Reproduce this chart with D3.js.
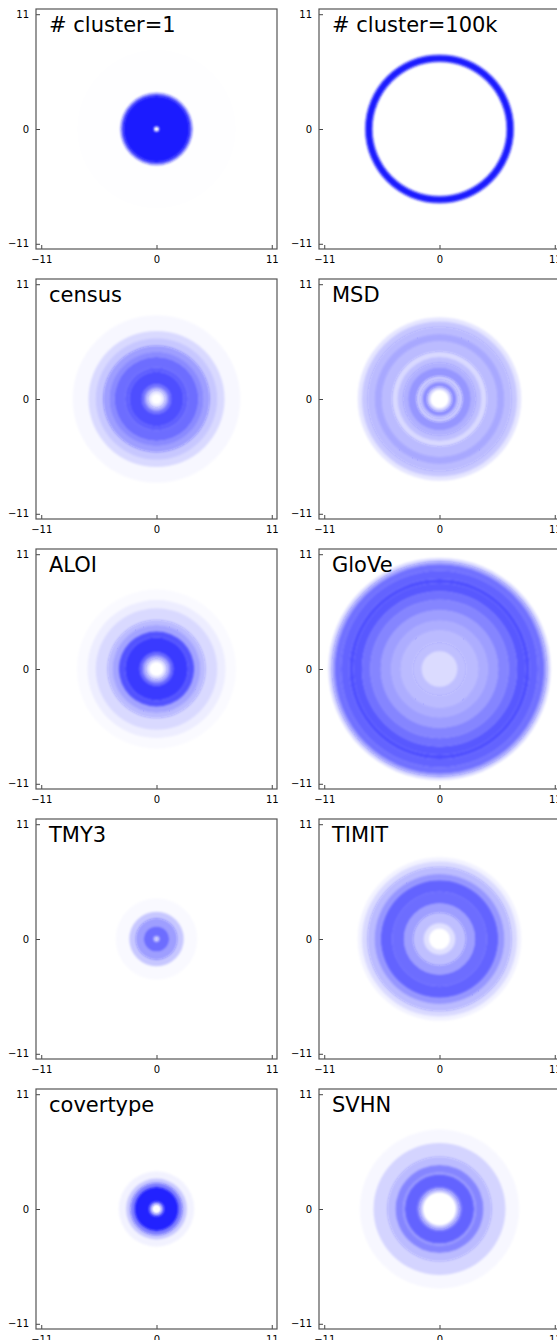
<!DOCTYPE html>
<html>
<head>
<meta charset="utf-8">
<script src="https://cdn.jsdelivr.net/npm/d3@7"></script>
<style>
  body { margin: 0; background: #fff; }
  svg text { font-family: 'DejaVu Sans', sans-serif; fill: #000; }
</style>
</head>
<body>
<div id="chart"></div>
<script>
// Panel titles, in reading order (row by row)
const titles = ['# cluster=1', '# cluster=100k', 'census', 'MSD', 'ALOI',
  'GloVe', 'TMY3', 'TIMIT', 'covertype', 'SVHN'];

// Tick values on both axes
const tickValues = [-11, 0, 11];

// Ring bands per panel: [inner radius, outer radius, density (opacity)]
const cluster1 = [[0.25, 3.15, 0.98], [3.15, 3.3, 0.8], [3.3, 3.45, 0.5], [3.45, 7.6, 0.004]];
const cluster100k = [[6.38, 6.45, 0.6], [6.45, 7.05, 0.98], [7.05, 7.12, 0.6]];
const census = [[0.5, 0.8, 0.1], [0.8, 1.1, 0.35], [1.1, 1.4, 0.6], [1.4, 2.6, 0.74],
  [2.6, 3.0, 0.68], [3.0, 4.0, 0.62], [4.0, 4.5, 0.5], [4.5, 5.1, 0.42], [5.1, 5.8, 0.22],
  [5.8, 6.5, 0.15], [6.5, 8.0, 0.03]];
const msd = [[0.9, 1.2, 0.2], [1.2, 1.6, 0.5], [1.6, 1.9, 0.3], [1.9, 2.2, 0.2],
  [2.2, 3.0, 0.45], [3.0, 3.5, 0.35], [3.5, 4.0, 0.25], [4.0, 4.5, 0.15], [4.5, 5.5, 0.3],
  [5.5, 6.2, 0.38], [6.2, 6.9, 0.3], [6.9, 7.4, 0.22], [7.4, 7.8, 0.1]];
const aloi = [[0.7, 1.0, 0.15], [1.0, 1.3, 0.4], [1.3, 1.6, 0.65], [1.6, 3.0, 0.82],
  [3.0, 3.6, 0.72], [3.6, 4.2, 0.4], [4.2, 4.7, 0.3], [4.7, 5.8, 0.15], [5.8, 6.6, 0.07],
  [6.6, 7.6, 0.02]];
const glove = [[0, 1.7, 0.14], [1.7, 2.5, 0.25], [2.5, 3.7, 0.3], [3.7, 4.6, 0.36],
  [4.6, 5.6, 0.42], [5.6, 6.6, 0.52], [6.6, 7.4, 0.6], [7.4, 8.2, 0.7], [8.2, 8.6, 0.74],
  [8.6, 9.4, 0.66], [9.4, 10.0, 0.6], [10.0, 10.3, 0.4], [10.3, 10.6, 0.15]];
const tmy3 = [[0.12, 0.3, 0.35], [0.3, 1.2, 0.62], [1.2, 2.0, 0.42], [2.0, 2.6, 0.22],
  [2.6, 3.9, 0.025]];
const timit = [[1.0, 1.5, 0.12], [1.5, 2.5, 0.25], [2.5, 3.4, 0.42], [3.4, 4.5, 0.62],
  [4.5, 5.6, 0.66], [5.6, 6.2, 0.45], [6.2, 6.9, 0.3], [6.9, 7.4, 0.15], [7.4, 7.8, 0.05]];
const covertype = [[0.45, 0.7, 0.5], [0.7, 2.1, 0.95], [2.1, 2.5, 0.55], [2.5, 2.9, 0.22],
  [2.9, 3.6, 0.05]];
const svhn = [[1.6, 1.9, 0.25], [1.9, 2.1, 0.5], [2.1, 3.3, 0.66], [3.3, 3.5, 0.45],
  [3.5, 4.2, 0.52], [4.2, 5.0, 0.3], [5.0, 6.3, 0.17], [6.3, 7.6, 0.03]];

const panels = [cluster1, cluster100k, census, msd, aloi, glove, tmy3, timit, covertype, svhn];

/*
 * Layout
 */
const width = 557;
const height = 1340;
const colX = [36, 319];
const rowY = [9, 279, 549, 819, 1089];
const plotW = 241;
const plotH = 240;
const blue = '#1414ff';

const svg = d3.select('#chart')
  .append('svg')
  .attr('width', width)
  .attr('height', height);

// Soft edges for the rings
svg.append('defs')
  .append('filter')
  .attr('id', 'soft')
  .attr('x', '-10%').attr('y', '-10%')
  .attr('width', '120%').attr('height', '120%')
  .append('feGaussianBlur')
  .attr('stdDeviation', 0.8);

const x = d3.scaleLinear().domain([-11.5, 11.5]).range([0, plotW]);
const y = d3.scaleLinear().domain([-11.5, 11.5]).range([plotH, 0]);
// radius in pixels for a data distance
const r = (d) => x(d) - x(0);

const arc = d3.arc()
  .innerRadius((d) => r(d[0]))
  .outerRadius((d) => r(d[1]))
  .startAngle(0)
  .endAngle(2 * Math.PI);

panels.forEach((bands, i) => {
  const g = svg.append('g')
    .attr('transform', 'translate(' + colX[i % 2] + ',' + rowY[Math.floor(i / 2)] + ')');

  // Rings
  g.append('g')
    .attr('transform', 'translate(' + x(0) + ',' + y(0) + ')')
    .attr('filter', 'url(#soft)')
    .selectAll('path')
    .data(bands)
    .enter()
    .append('path')
    .attr('d', arc)
    .style('fill', blue)
    .style('fill-opacity', (d) => d[2]);

  // Axes with inward ticks
  g.append('g')
    .attr('transform', 'translate(0,' + plotH + ')')
    .call(d3.axisBottom(x).tickValues(tickValues).tickSizeInner(-4).tickSizeOuter(0)
      .tickPadding(7).tickFormat(d3.format('d')))
    .call((a) => a.select('.domain').remove())
    .call((a) => a.selectAll('text').attr('font-size', 10).attr('font-family', 'DejaVu Sans'));

  g.append('g')
    .call(d3.axisLeft(y).tickValues(tickValues).tickSizeInner(-4).tickSizeOuter(0)
      .tickPadding(7).tickFormat(d3.format('d')))
    .call((a) => a.select('.domain').remove())
    .call((a) => a.selectAll('text').attr('font-size', 10).attr('font-family', 'DejaVu Sans'));

  g.selectAll('.tick line').attr('stroke', '#444');

  // Frame
  g.append('rect')
    .attr('width', plotW)
    .attr('height', plotH)
    .attr('fill', 'none')
    .attr('stroke', '#555')
    .attr('stroke-width', 1.2);

  // Title
  g.append('text')
    .attr('x', 13)
    .attr('y', 23)
    .attr('font-size', 21)
    .text(titles[i]);
});
</script>
</body>
</html>
